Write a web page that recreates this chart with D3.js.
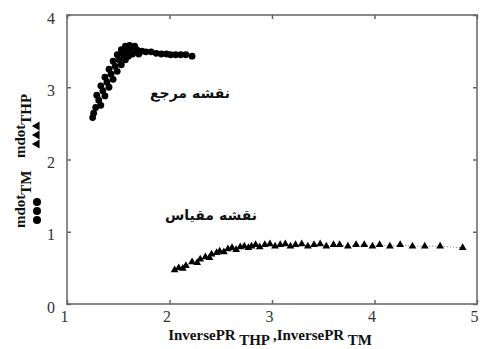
<!DOCTYPE html>
<html><head><meta charset="utf-8">
<script src="https://cdn.jsdelivr.net/npm/d3@7"></script>
<style>body{margin:0;background:#fff}svg{display:block}</style>
</head><body>
<svg id="c" width="483" height="349"></svg>
<script>
const xTicks = [1, 2, 3, 4, 5];
const yTicks = [0, 1, 2, 3, 4];
// mdot_TM (circles) vs InversePR_TM  — reference map
const tmX = [1.25,1.26,1.28,1.29,1.31,1.33,1.33,1.35,1.37,1.37,1.39,1.41,1.41,1.43,1.45,1.45,1.47,1.49,1.49,1.51,1.53,1.53,1.55,1.57,1.57,1.59,1.60,1.61,1.62,1.64,1.66,1.68,1.70,1.73,1.77,1.82,1.87,1.92,1.97,2.01,2.06,2.11,2.16,2.22];
const tmY = [2.58,2.64,2.72,2.89,2.82,2.75,3.02,2.95,2.88,3.14,3.07,3.00,3.25,3.18,3.11,3.36,3.29,3.22,3.45,3.38,3.31,3.52,3.45,3.38,3.57,3.50,3.43,3.58,3.53,3.46,3.57,3.52,3.46,3.50,3.49,3.49,3.47,3.46,3.46,3.45,3.45,3.45,3.45,3.43];
// mdot_THP (triangles) vs InversePR_THP — scaled map
const thpX = [2.05,2.09,2.13,2.16,2.22,2.27,2.30,2.35,2.39,2.41,2.46,2.49,2.53,2.57,2.61,2.65,2.69,2.73,2.77,2.80,2.84,2.88,2.93,2.98,3.03,3.08,3.13,3.18,3.23,3.29,3.35,3.41,3.47,3.53,3.60,3.66,3.74,3.82,3.90,3.98,4.05,4.15,4.25,4.37,4.49,4.64,4.86];
const thpY = [0.47,0.50,0.49,0.53,0.58,0.57,0.62,0.65,0.64,0.69,0.71,0.73,0.72,0.76,0.78,0.75,0.79,0.80,0.78,0.80,0.82,0.79,0.82,0.83,0.80,0.82,0.83,0.80,0.82,0.83,0.80,0.82,0.83,0.80,0.82,0.82,0.80,0.82,0.82,0.80,0.82,0.80,0.82,0.80,0.80,0.80,0.78];
const labelRef = "نقشه مرجع";
const labelScale = "نقشه مقیاس";

const svg = d3.select("#c");
const L = 67, R = 477, T = 15, B = 304;
const x = d3.scaleLinear().domain([1, 5]).range([L, R]);
const y = d3.scaleLinear().domain([0, 4]).range([B, T]);
const serif = "'Liberation Serif','DejaVu Serif',serif";
const gray = "#8a8a8a";

// frame
svg.append("rect").attr("x", L).attr("y", T).attr("width", R - L).attr("height", B - T)
  .attr("fill", "none").attr("stroke", gray).attr("stroke-width", 2);

// axes with inward ticks, mirrored
const ax = (g, axis) => { g.call(axis); g.select(".domain").remove();
  g.selectAll("line").attr("stroke", "#666").attr("stroke-width", 1.5); };
svg.append("g").attr("transform", `translate(0,${B})`)
  .call(g => ax(g, d3.axisBottom(x).tickValues(xTicks).tickSizeInner(-4).tickPadding(7).tickFormat(d3.format("d"))))
  .selectAll("text").attr("font-family", serif).attr("font-size", 16).attr("fill", "#333").attr("dx", -3);
svg.append("g").attr("transform", `translate(0,${T})`)
  .call(g => ax(g, d3.axisTop(x).tickValues(xTicks).tickSizeInner(-4).tickFormat("")));
svg.append("g").attr("transform", `translate(${L},0)`)
  .call(g => ax(g, d3.axisLeft(y).tickValues(yTicks).tickSizeInner(-4).tickPadding(12).tickFormat(d3.format("d"))))
  .selectAll("text").attr("font-family", serif).attr("font-size", 16).attr("fill", "#333").attr("dy", "0.5em");
svg.append("g").attr("transform", `translate(${R},0)`)
  .call(g => ax(g, d3.axisRight(y).tickValues(yTicks).tickSizeInner(-4).tickFormat("")));

// data
const tm = tmX.map((v, i) => [v, tmY[i]]);
const thp = thpX.map((v, i) => [v, thpY[i]]);
const line = d3.line().x(d => x(d[0])).y(d => y(d[1]));
svg.append("path").attr("d", line(tm)).attr("fill", "none").attr("stroke", "#777")
  .attr("stroke-width", 1).attr("stroke-dasharray", "1,2");
svg.append("path").attr("d", line(thp)).attr("fill", "none").attr("stroke", "#777")
  .attr("stroke-width", 1).attr("stroke-dasharray", "1,2");
svg.append("g").selectAll("circle").data(tm).join("circle")
  .attr("cx", d => x(d[0])).attr("cy", d => y(d[1])).attr("r", 3.4).attr("fill", "#000");
const tri = d3.symbol().type(d3.symbolTriangle).size(26);
svg.append("g").selectAll("path").data(thp).join("path")
  .attr("transform", d => `translate(${x(d[0])},${y(d[1])})`).attr("d", tri).attr("fill", "#000");

// annotations
svg.append("text").attr("x", 190).attr("y", 98).attr("text-anchor", "middle")
  .attr("font-family", "'DejaVu Sans',sans-serif").attr("font-weight", "bold").attr("font-size", 14).attr("fill", "#111").attr("direction", "rtl").text(labelRef);
svg.append("text").attr("x", 211).attr("y", 220).attr("text-anchor", "middle")
  .attr("font-family", "'DejaVu Sans',sans-serif").attr("font-weight", "bold").attr("font-size", 14).attr("fill", "#111").attr("direction", "rtl").text(labelScale);

// x axis title
const xt = svg.append("text").attr("x", 270).attr("y", 340).attr("text-anchor", "middle")
  .attr("font-family", serif).attr("font-weight", "bold").attr("font-size", 15).attr("fill", "#111");
xt.append("tspan").text("InversePR");
xt.append("tspan").attr("dy", 5).text(" THP");
xt.append("tspan").attr("dy", -5).text(" ,InversePR");
xt.append("tspan").attr("dy", 5).text(" TM");

// y axis title (rotated legend-like)
const yg = svg.append("g").attr("transform", "rotate(-90)");
const yt = yg.append("text").attr("font-family", serif).attr("font-weight", "bold").attr("font-size", 15).attr("fill", "#111");
yt.append("tspan").attr("x", -228).attr("y", 25).text("mdot");
yt.append("tspan").attr("dy", 6).text("TM");
yt.append("tspan").attr("x", -158).attr("y", 25).text("mdot");
yt.append("tspan").attr("dy", 6).text("THP");
// marker glyphs under the text
[0, 1, 2].forEach(i => {
  yg.append("circle").attr("cx", -220 + i * 9).attr("cy", 37).attr("r", 4).attr("fill", "#000");
  yg.append("path").attr("transform", `translate(${-144 + i * 9},37)`)
    .attr("d", d3.symbol().type(d3.symbolTriangle).size(34)).attr("fill", "#000");
});
</script>
</body></html>
